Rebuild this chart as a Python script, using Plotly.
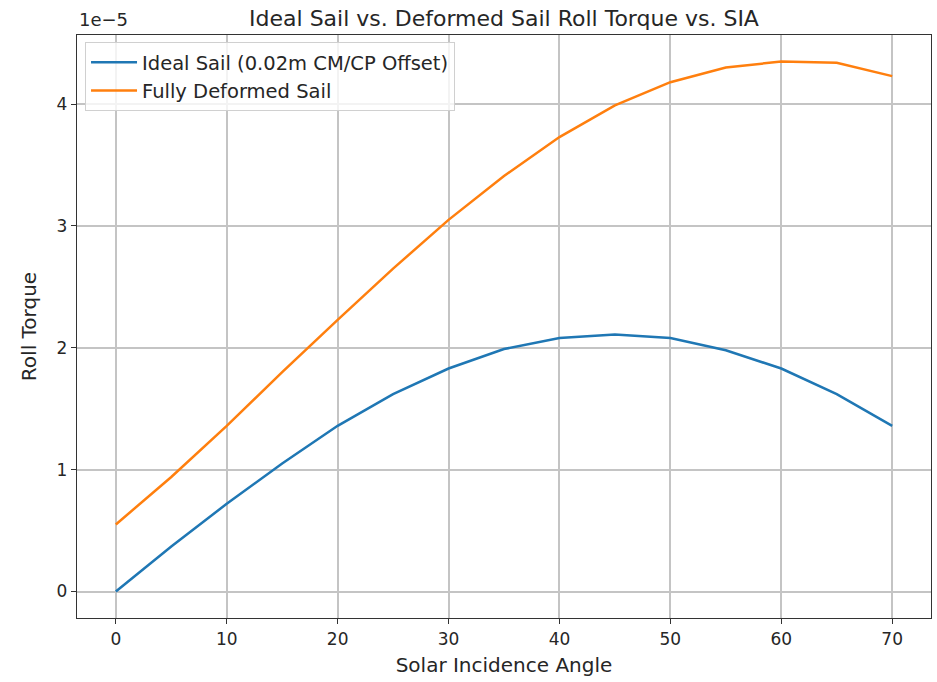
import plotly.graph_objects as go

sia = [0, 5, 10, 15, 20, 25, 30, 35, 40, 45, 50, 55, 60, 65, 70]
ideal = [0.0, 0.37, 0.72, 1.05, 1.36, 1.62, 1.83, 1.99, 2.08, 2.11, 2.08, 1.98, 1.83, 1.62, 1.36]
deformed = [0.55, 0.94, 1.36, 1.80, 2.23, 2.65, 3.05, 3.41, 3.73, 3.99, 4.18, 4.30, 4.35, 4.34, 4.23]
scale = 1e-5
x_ticks = [0, 10, 20, 30, 40, 50, 60, 70]
y_ticks = [0, 1, 2, 3, 4]

font = "DejaVu Sans, Liberation Sans, sans-serif"
txt = "#262626"

fig = go.Figure()
fig.add_trace(go.Scatter(x=sia, y=[v * scale for v in ideal], mode="lines",
                         name="Ideal Sail (0.02m CM/CP Offset)",
                         line=dict(color="#1f77b4", width=2.5)))
fig.add_trace(go.Scatter(x=sia, y=[v * scale for v in deformed], mode="lines",
                         name="Fully Deformed Sail",
                         line=dict(color="#ff7f0e", width=2.5)))

fig.update_layout(
    width=937, height=682,
    margin=dict(l=77, r=6, t=35, b=64, autoexpand=False),
    paper_bgcolor="white", plot_bgcolor="white",
    font=dict(family=font, color=txt, size=17),
    title=dict(text="Ideal Sail vs. Deformed Sail Roll Torque vs. SIA",
               x=(77 + 931) / 2 / 937, xanchor="center", y=1 - 18 / 682, yanchor="middle",
               font=dict(size=22, color=txt)),
    showlegend=True,
    legend=dict(x=0.0094, y=0.988, xanchor="left", yanchor="top",
                bgcolor="rgba(255,255,255,0.8)", bordercolor="#d0d0d0", borderwidth=1,
                font=dict(size=19.5, color=txt), itemwidth=46),
    xaxis=dict(range=[-3.5, 73.5], tickvals=x_ticks, showgrid=True, gridcolor="#c4c4c4", gridwidth=1.5,
               zeroline=False, showline=True, linecolor="#333333", linewidth=1.3, mirror=True,
               ticks="outside", ticklen=5, tickcolor="#333333", tickfont=dict(size=17), automargin=False,
               title=dict(text="Solar Incidence Angle", font=dict(size=20), standoff=10)),
    yaxis=dict(range=[-0.2175 * scale, 4.5675 * scale], tickvals=[t * scale for t in y_ticks],
               ticktext=[str(t) for t in y_ticks], showgrid=True, gridcolor="#c4c4c4", gridwidth=1.5,
               zeroline=False, showline=True, linecolor="#333333", linewidth=1.3, mirror=True,
               ticks="outside", ticklen=5, tickcolor="#333333", tickfont=dict(size=17), automargin=False,
               title=dict(text="Roll Torque", font=dict(size=20), standoff=14)),
)
fig.add_annotation(text="1e\u22125", xref="paper", yref="paper", x=0, y=1, xanchor="left",
                   yanchor="bottom", yshift=3, showarrow=False, font=dict(size=18, color=txt))

fig.write_html("out.html", config={"displayModeBar": False},
               post_script="document.body.style.margin='0';document.body.style.overflow='hidden';")
